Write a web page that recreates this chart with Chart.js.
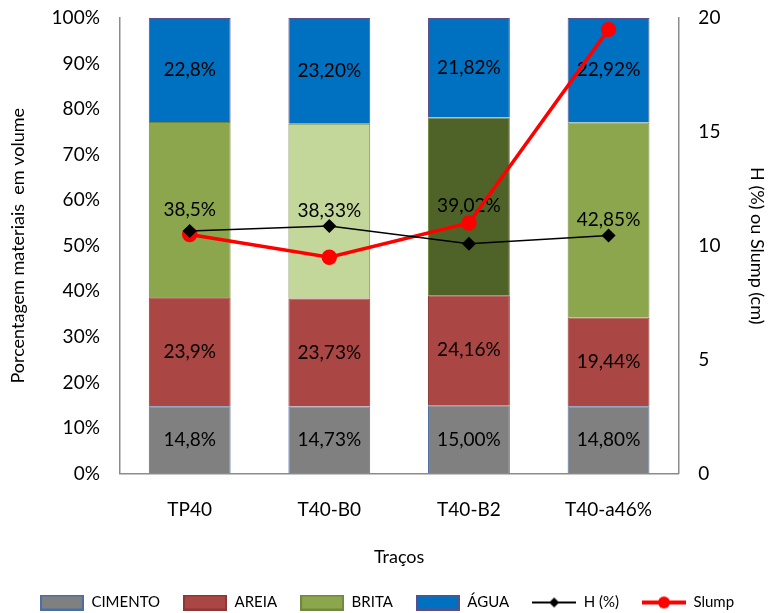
<!DOCTYPE html>
<html>
<head>
<meta charset="utf-8">
<script src="https://cdn.jsdelivr.net/npm/chart.js@4.4.1/dist/chart.umd.min.js"></script>
<style>
body{margin:0;background:#fff}
#caja{width:769px;height:613px}
</style>
</head>
<body>
<div id="caja"><canvas id="graficaTracos" width="769" height="613"></canvas></div>
<script>
const tracos = ["TP40", "T40-B0", "T40-B2", "T40-a46%"];

const cimento = [14.8, 14.73, 15.00, 14.80];
const areia = [23.9, 23.73, 24.16, 19.44];
const brita = [38.5, 38.33, 39.02, 42.85];
const agua = [22.8, 23.20, 21.82, 22.92];
const casasDecimais = [1, 2, 2, 2];

const umidade = [10.65, 10.87, 10.09, 10.45];
const slump = [10.5, 9.5, 11.0, 19.5];

const fonte = "Lato";

// rotulos dentro das barras (desenhados antes das linhas)
const rotulos = {
id: "rotulos",
afterDatasetDraw(chart, args) {
const ds = chart.data.datasets[args.index];
if (ds.type !== "bar") return;
const ctx = chart.ctx;
ctx.save();
ctx.font = "19px " + fonte;
ctx.fillStyle = "#000";
ctx.textAlign = "center";
ctx.textBaseline = "middle";
args.meta.data.forEach((barra, i) => {
const txt = ds.data[i].toFixed(casasDecimais[i]).replace(".", ",") + "%";
ctx.fillText(txt, barra.x, (barra.y + barra.base) / 2);
});
ctx.restore();
}
};

function iconeBarra(fundo, borda) {
const c = document.createElement("canvas");
c.width = 44; c.height = 16;
const g = c.getContext("2d");
g.fillStyle = fundo;
g.fillRect(1, 1, 42, 14);
g.strokeStyle = borda;
g.lineWidth = 2;
g.strokeRect(1, 1, 42, 14);
return c;
}

function iconeLinha(cor, largura, marcador) {
const c = document.createElement("canvas");
c.width = 44; c.height = 16;
const g = c.getContext("2d");
g.strokeStyle = cor;
g.fillStyle = cor;
g.lineWidth = largura;
g.beginPath(); g.moveTo(0, 8); g.lineTo(44, 8); g.stroke();
g.beginPath();
if (marcador === "losango") {
g.moveTo(22, 3); g.lineTo(27, 8); g.lineTo(22, 13); g.lineTo(17, 8);
} else {
g.arc(22, 8, 6, 0, Math.PI * 2);
}
g.closePath(); g.fill();
return c;
}

const icones = [
iconeBarra("#808080", "#4a6fa5"),
iconeBarra("#aa4643", "#8c3836"),
iconeBarra("#8ba64d", "#71893f"),
iconeBarra("#0070c0", "#5b4f8a"),
iconeLinha("#000", 2, "losango"),
iconeLinha("#ff0000", 4, "circulo")
];

const ctx = document.getElementById("graficaTracos");

new Chart(ctx, {
type: "bar",
data: {
labels: tracos,
datasets: [
{ type: "bar", label: "CIMENTO", data: cimento, backgroundColor: "#808080", borderColor: "#4a6fa5", borderWidth: 1, order: 1 },
{ type: "bar", label: "AREIA", data: areia, backgroundColor: "#aa4643", borderColor: "#8c3836", borderWidth: 1, order: 1 },
{ type: "bar", label: "BRITA", data: brita, backgroundColor: ["#8ba64d", "#c4d79b", "#4f6228", "#8ba64d"], borderColor: "#71893f", borderWidth: 1, order: 1 },
{ type: "bar", label: "ÁGUA", data: agua, backgroundColor: "#0070c0", borderColor: "#5b4f8a", borderWidth: 1, order: 1 },
{ type: "line", label: "H (%)", data: umidade, yAxisID: "y1", borderColor: "#000", backgroundColor: "#000", borderWidth: 1.5, pointStyle: "rectRot", pointRadius: 6, order: 0 },
{ type: "line", label: "Slump", data: slump, yAxisID: "y1", borderColor: "#ff0000", backgroundColor: "#ff0000", borderWidth: 3.5, pointStyle: "circle", pointRadius: 6, order: 0 }
]
},
options: {
responsive: false,
animation: false,
layout: { padding: { top: 18, left: 6, right: 1, bottom: -7 } },
datasets: { bar: { categoryPercentage: 1, barPercentage: 0.586 } },
plugins: {
tooltip: { enabled: false },
legend: {
position: "bottom",
labels: {
usePointStyle: true,
pointStyleWidth: 44,
color: "#000",
font: { family: fonte, size: 15 },
padding: 23,
sort: (a, b) => a.datasetIndex - b.datasetIndex,
generateLabels(chart) {
return chart.data.datasets.map((ds, i) => ({
text: ds.label,
datasetIndex: i,
pointStyle: icones[i],
fontColor: "#000",
lineWidth: 0,
hidden: false
}));
}
}
}
},
scales: {
x: {
stacked: true,
grid: { display: false, drawTicks: false },
border: { color: "#8c8c8c", width: 1.5 },
ticks: { color: "#000", font: { family: fonte, size: 19 }, padding: 25 },
title: { display: true, text: "Traços", color: "#000", font: { family: fonte, size: 18 }, padding: { top: 0, bottom: 4 } }
},
y: {
stacked: true,
min: 0,
max: 100,
grid: { display: false, drawTicks: true, tickLength: 17 },
border: { color: "#8c8c8c", width: 1.5 },
ticks: { stepSize: 10, color: "#000", font: { family: fonte, size: 19 }, padding: 3, callback: v => v + "%" },
title: { display: true, text: "Porcentagem materiais  em volume", color: "#000", font: { family: fonte, size: 18 }, padding: { top: 1, bottom: 20 } }
},
y1: {
position: "right",
min: 0,
max: 20,
grid: { display: false, drawTicks: true, tickLength: 17 },
border: { color: "#8c8c8c", width: 1.5 },
ticks: { stepSize: 5, color: "#000", font: { family: fonte, size: 19 }, padding: 3 },
title: { display: true, text: "H (%) ou Slump (cm)", color: "#000", font: { family: fonte, size: 18 }, padding: { top: 0, bottom: 23 } }
}
}
},
plugins: [rotulos]
});
</script>
</body>
</html>
